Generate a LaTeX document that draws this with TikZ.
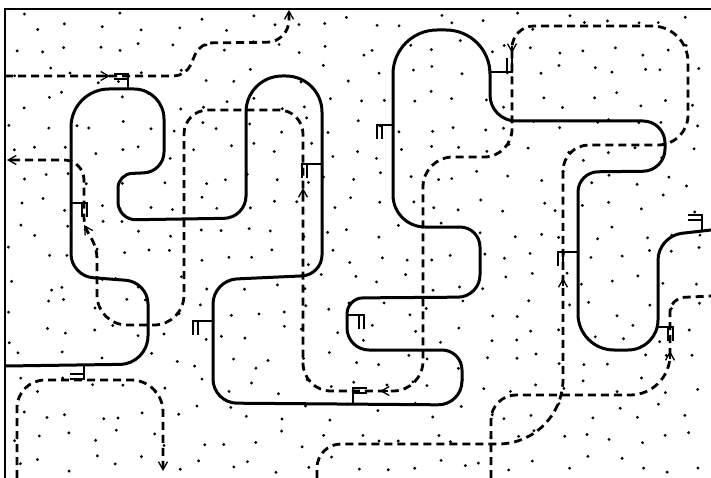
\documentclass[tikz,border=0pt]{standalone}
\usetikzlibrary{arrows.meta}

\begin{document}
\begin{tikzpicture}[x=1pt, y=-1pt,
    wire/.style={line width=3pt, line join=round},
    signal/.style={line width=2.8pt, dash pattern=on 8pt off 5pt},
    gate/.style={line width=2.8pt},
    headmark/.style={line width=1.3pt, -{Straight Barb[length=8pt, width=9pt]}}]
    \useasboundingbox (0,0) rectangle (711,478);

    %% Dotted ground
    \pgfmathsetseed{4711}
    \foreach \i in {0,...,26} {
      \foreach \j in {0,...,17} {
        \pgfmathsetmacro{\px}{17+26*\i+9*rand}
        \pgfmathsetmacro{\py}{22+26*\j+9*rand}
        \fill (\px,\py) circle (1.6pt);
      }
    }

    %% Frame
    \draw[line width=1.6pt] (5,478) -- (5,9) -- (711,9);

    %% Solid line
    \draw[wire]
      (5,366) [rounded corners=28pt] -- (148,364) [rounded corners=22pt] -- (148,282)
      [rounded corners=22pt] -- (71,276) [rounded corners=38pt] -- (71,89)
      [rounded corners=30pt] -- (164,89) [rounded corners=20pt] -- (164,172)
      [rounded corners=14pt] -- (118,174) [rounded corners=18pt] -- (118,220)
      [rounded corners=22pt] -- (246,218) [rounded corners=36pt] -- (246,76)
      [rounded corners=36pt] -- (322,76) [rounded corners=20pt] -- (322,275)
      [rounded corners=24pt] -- (213,280) [rounded corners=24pt] -- (213,403)
      [rounded corners=24pt] -- (462,405) [rounded corners=20pt] -- (462,350)
      [rounded corners=22pt] -- (347,350) [rounded corners=16pt] -- (347,298)
      [rounded corners=22pt] -- (480,297) [rounded corners=20pt] -- (480,227)
      [rounded corners=32pt] -- (393,227) [rounded corners=44pt] -- (393,30)
      [rounded corners=44pt] -- (490,30) [rounded corners=26pt] -- (490,121)
      [rounded corners=22pt] -- (665,121) [rounded corners=22pt] -- (665,171)
      [rounded corners=20pt] -- (578,172) [rounded corners=36pt] -- (578,350)
      [rounded corners=30pt] -- (658,350) [rounded corners=24pt] -- (658,236)
      -- (711,230);

    %% Gates on the solid line: base / stem dir / prong dir / stem length
    \foreach \x/\y/\u/\v/\p/\q/\l in {128/89/0/-1/-1/0/15, 71/203/1/0/0/1/16,
        393/125/-1/0/0/1/16, 322/164/-1/0/0/1/20, 490/72/1/0/0/-1/22,
        353/404/0/-1/1/0/16, 213/321/-1/0/0/1/20, 84/365/0/1/-1/0/14,
        347/315/1/0/0/1/17, 578/252/-1/0/0/1/20, 657/327/1/0/0/1/16,
        702/231/0/-1/-1/0/16} {
      \draw[gate] (\x,\y) -- ++({\l*\u},{\l*\v}) -- ++({14*\p},{14*\q});
      \draw[gate] ({\x+(\l-5)*\u},{\y+(\l-5)*\v}) -- ++({14*\p},{14*\q});
    }

    %% Dashed lines
    \draw[signal]
      (5,76) [rounded corners=12pt] -- (186,76) [rounded corners=12pt] -- (200,43)
      [rounded corners=22pt] -- (289,42) -- (289,12);
    \draw[signal]
      (317,478) [rounded corners=24pt] -- (317,444) [rounded corners=65pt] -- (563,444)
      [rounded corners=26pt] -- (563,145) [rounded corners=30pt] -- (688,145)
      [rounded corners=36pt] -- (688,26) [rounded corners=22pt] -- (512,26)
      [rounded corners=28pt] -- (512,157) [rounded corners=30pt] -- (423,157)
      [rounded corners=30pt] -- (423,391) [rounded corners=28pt] -- (303,391)
      [rounded corners=24pt] -- (303,110) [rounded corners=24pt] -- (184,110)
      [rounded corners=30pt] -- (184,325) [rounded corners=30pt] -- (97,325)
      [rounded corners=10pt] -- (97,248) [rounded corners=8pt] -- (84,226)
      [rounded corners=20pt] -- (84,160) -- (9,160);
    \draw[signal]
      (17,478) [rounded corners=28pt] -- (17,380) [rounded corners=32pt] -- (163,380)
      -- (163,468);
    \draw[signal]
      (491,478) [rounded corners=25pt] -- (491,395) [rounded corners=40pt] -- (670,395)
      [rounded corners=14pt] -- (670,298) -- (711,296);

    %% Arrow heads
    \draw[headmark] (102,76) -- (110,76);
    \draw[headmark] (289,18) -- (289,10);
    \draw[headmark] (563,286) -- (563,278);
    \draw[headmark] (512,46) -- (512,53);
    \draw[headmark] (388,391) -- (380,391);
    \draw[headmark] (303,196) -- (303,188);
    \draw[headmark] (89,233) -- (84,225);
    \draw[headmark] (14,160) -- (7,160);
    \draw[headmark] (163,463) -- (163,471);
    \draw[headmark] (670,359) -- (670,351);
\end{tikzpicture}
\end{document}
